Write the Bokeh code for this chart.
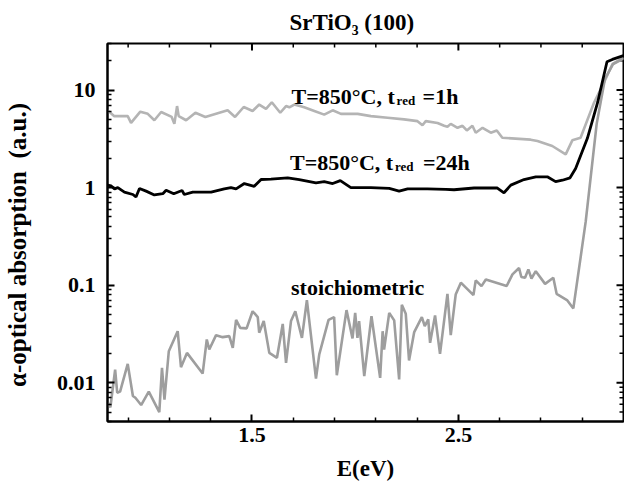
import math
from bokeh.plotting import figure
from bokeh.models import FixedTicker, Label, Range1d
from bokeh.embed import file_html
from bokeh.resources import INLINE

# ---- data ----
E_1h = [0.80, 0.833, 0.898, 0.914, 0.959, 0.995, 1.027, 1.060, 1.111, 1.124, 1.137, 1.145,
        1.181, 1.226, 1.274, 1.382, 1.418, 1.460, 1.503, 1.535, 1.568, 1.596, 1.637, 1.665,
        1.681, 1.705, 1.753, 1.802, 1.850, 1.891, 1.931, 2.012, 2.076, 2.157, 2.237, 2.302,
        2.326, 2.342, 2.399, 2.431, 2.447, 2.463, 2.496, 2.520, 2.541, 2.568, 2.584, 2.617,
        2.657, 2.686, 2.713, 2.850, 2.883, 2.955, 3.020, 3.052, 3.092, 3.157, 3.205, 3.246, 3.30]
A_1h = [6.2, 5.4, 5.4, 4.6, 6.0, 5.7, 4.9, 5.95, 5.3, 4.5, 6.85, 5.4,
        4.9, 5.85, 5.3, 6.2, 5.3, 6.7, 6.1, 7.1, 6.4, 7.5, 5.85, 6.85,
        6.65, 7.1, 6.65, 6.1, 5.6, 6.2, 5.7, 5.7, 5.4, 5.2, 5.0, 4.8,
        4.35, 4.8, 4.6, 4.3, 4.2, 4.5, 4.1, 4.3, 3.85, 4.3, 3.65, 4.1,
        3.65, 3.85, 3.24, 3.1, 3.0, 2.67, 2.19, 3.05, 3.24, 7.4, 11.9, 18.4, 21.6]

E_24h = [0.80, 0.818, 0.834, 0.850, 0.882, 0.923, 0.938, 0.955, 0.987, 1.027, 1.068, 1.084,
         1.121, 1.161, 1.172, 1.213, 1.302, 1.366, 1.398, 1.423, 1.463, 1.511, 1.544, 1.592,
         1.673, 1.729, 1.810, 1.850, 1.891, 1.928, 1.979, 2.076, 2.165, 2.213, 2.254, 2.350,
         2.439, 2.479, 2.576, 2.689, 2.721, 2.754, 2.818, 2.875, 2.931, 2.971, 3.004, 3.041,
         3.068, 3.125, 3.175, 3.220, 3.246, 3.30]
A_24h = [1.06, 1.04, 0.97, 1.0, 0.90, 0.85, 0.80, 0.98, 0.92, 0.84, 0.865, 0.94,
         0.865, 0.935, 0.85, 0.90, 0.90, 0.97, 1.0, 0.97, 1.1, 1.03, 1.21, 1.22,
         1.26, 1.21, 1.12, 1.15, 1.1, 1.18, 1.0, 1.0, 0.98, 0.92, 0.97, 0.97,
         0.96, 0.95, 0.99, 0.99, 0.885, 1.06, 1.21, 1.29, 1.29, 1.15, 1.19, 1.26,
         1.57, 3.2, 7.5, 19.5, 20.6, 22.5]

E_st = [0.802, 0.814, 0.837, 0.847, 0.861, 0.898, 0.923, 0.935, 0.963, 1.000, 1.051, 1.064,
        1.076, 1.097, 1.140, 1.156, 1.185, 1.261, 1.281, 1.293, 1.326, 1.358, 1.390, 1.407,
        1.423, 1.443, 1.474, 1.503, 1.528, 1.535, 1.557, 1.584, 1.621, 1.649, 1.665, 1.689,
        1.710, 1.742, 1.766, 1.810, 1.826, 1.871, 1.898, 1.911, 1.958, 1.987, 2.000, 2.011,
        2.019, 2.044, 2.079, 2.121, 2.133, 2.140, 2.165, 2.189, 2.213, 2.226, 2.245, 2.261,
        2.286, 2.323, 2.337, 2.354, 2.363, 2.387, 2.411, 2.447, 2.463, 2.487, 2.512, 2.573,
        2.584, 2.612, 2.633, 2.734, 2.762, 2.794, 2.805, 2.823, 2.839, 2.854, 2.875, 2.920,
        2.960, 2.976, 3.028, 3.057, 3.117, 3.170, 3.210, 3.250, 3.300]
A_st = [0.0062, 0.0056, 0.0136, 0.0079, 0.0081, 0.0156, 0.0073, 0.0070, 0.0059, 0.0081, 0.0050, 0.0142,
        0.0067, 0.021, 0.0337, 0.0144, 0.0202, 0.0124, 0.0277, 0.0219, 0.0307, 0.0293, 0.030, 0.0228,
        0.044, 0.0365, 0.036, 0.054, 0.047, 0.0325, 0.0428, 0.0202, 0.018, 0.040, 0.016, 0.0428,
        0.054, 0.0288, 0.070, 0.011, 0.0195, 0.044, 0.047, 0.0119, 0.0555, 0.0284, 0.052, 0.0288,
        0.0428, 0.0117, 0.048, 0.0112, 0.0337, 0.0219, 0.052, 0.0435, 0.0108, 0.063, 0.051, 0.0169,
        0.033, 0.047, 0.038, 0.0445, 0.0256, 0.049, 0.0197, 0.0815, 0.0307, 0.080, 0.106, 0.079,
        0.112, 0.0977, 0.114, 0.098, 0.129, 0.150, 0.121, 0.119, 0.145, 0.117, 0.139, 0.103,
        0.119, 0.0815, 0.0697, 0.0577, 0.45, 4.5, 13.0, 18.5, 21.0]

x_major = [1.5, 2.5]
x_minor = [0.9, 1.1, 1.3, 1.7, 1.9, 2.1, 2.3, 2.7, 2.9, 3.1]
y_major = [0.01, 0.1, 1, 10]
y_labels = {0.01: "0.01", 0.1: "0.1", 1: "1", 10: "10"}
y_minor = [k * 10.0 ** d for d in range(-3, 2) for k in range(2, 10)]

X0, X1, Y0, Y1 = 0.8, 3.3, 0.004, 30

FONT = "Liberation Serif"

p = figure(width=624, height=491, x_range=Range1d(X0, X1), y_range=Range1d(Y0, Y1),
           y_axis_type="log", output_backend="svg", toolbar_location=None,
           min_border_left=106, min_border_right=1, min_border_top=43, min_border_bottom=70)
p.grid.visible = False
p.outline_line_color = "black"
p.outline_line_width = 2
p.background_fill_color = "white"
p.border_fill_color = "white"

p.title.text = "SrTiO\u2083 (100)"
p.title.text_font = FONT
p.title.text_font_style = "bold"
p.title.text_font_size = "23px"
p.title.text_color = "black"
p.title.align = "left"
p.title.vertical_align = "top"
p.title.offset = 182
p.title.standoff = 13

p.xaxis.ticker = FixedTicker(ticks=x_major, minor_ticks=x_minor)
p.yaxis.ticker = FixedTicker(ticks=y_major, minor_ticks=y_minor)
p.yaxis.major_label_overrides = y_labels
p.xaxis.axis_label = "E(eV)"
p.yaxis.axis_label = "\u03b1-optical absorption\u00a0 (a.u.)\u00a0\u00a0\u00a0\u00a0"

for ax in (p.xaxis[0], p.yaxis[0]):
    ax.axis_line_width = 2
    ax.major_tick_in = 7
    ax.major_tick_out = 0
    ax.minor_tick_in = 4
    ax.minor_tick_out = 0
    ax.major_tick_line_width = 2
    ax.minor_tick_line_width = 1.5
    ax.major_label_text_font = FONT
    ax.major_label_text_font_style = "bold"
    ax.major_label_text_font_size = "22px"
    ax.major_label_text_color = "black"
    ax.axis_label_text_font = FONT
    ax.axis_label_text_font_style = "bold"
    ax.axis_label_text_color = "black"

p.xaxis.axis_label_text_font_size = "23px"
p.yaxis.axis_label_text_font_size = "25px"
p.xaxis.major_label_standoff = 6
p.xaxis.axis_label_standoff = 11
p.yaxis.major_label_standoff = 12
p.yaxis.axis_label_standoff = 23

# mirrored inward ticks on the top and right edges
p.ray(x=x_major, y=[Y1] * len(x_major), length=7, length_units="screen",
      angle=-math.pi / 2, line_color="black", line_width=2)
p.ray(x=x_minor, y=[Y1] * len(x_minor), length=4, length_units="screen",
      angle=-math.pi / 2, line_color="black", line_width=1.5)
p.ray(x=[X1] * len(y_major), y=y_major, length=7, length_units="screen",
      angle=math.pi, line_color="black", line_width=2)
yminr = [v for v in y_minor if Y0 < v < Y1]
p.ray(x=[X1] * len(yminr), y=yminr, length=4, length_units="screen",
      angle=math.pi, line_color="black", line_width=1.5)

p.line(E_1h, A_1h, line_color="#b4b4b4", line_width=2.6)
p.line(E_st, A_st, line_color="#9e9e9e", line_width=2.6)
p.line(E_24h, A_24h, line_color="black", line_width=2.8)


def lab(x, y, text, size, xo=0, yo=0):
    p.add_layout(Label(x=x, y=y, text=text, x_offset=xo, y_offset=yo, text_font=FONT,
                       text_font_style="bold", text_font_size=size, text_color="black",
                       text_align="left", text_baseline="alphabetic"))


# annotations
lab(1.692, 8.68, "T=850°C, t", "22px")
lab(1.692, 8.68, "red", "13px", xo=105, yo=-4)
lab(1.692, 8.68, "=1h", "22px", xo=131)
lab(1.684, 1.795, "T=850°C, t", "22px")
lab(1.684, 1.795, "red", "13px", xo=105, yo=-4)
lab(1.684, 1.795, "=24h", "22px", xo=133)
lab(1.689, 0.0953, "stoichiometric", "22px")

open("out.html", "w").write(file_html(p, INLINE))
